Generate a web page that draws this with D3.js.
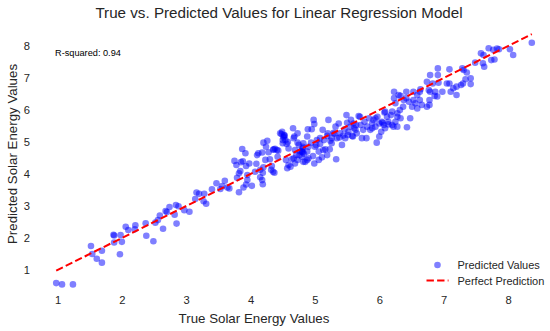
<!DOCTYPE html>
<html>
<head>
<meta charset="utf-8">
<script src="https://cdnjs.cloudflare.com/ajax/libs/d3/7.8.5/d3.min.js"></script>
<style>
  body { margin: 0; background: #fff; }
  svg { font-family: "Liberation Sans", Arial, sans-serif; }
</style>
</head>
<body>
<script>
// true vs predicted values (pairs in the same order)
const trueValues = [
  0.98,1.07,1.24,1.52,1.54,1.61,1.69,1.69,1.87,1.88,1.88,1.98,2.00,1.97,2.06,2.10,2.21,2.20,2.37,2.38,
  2.49,2.52,2.56,2.59,2.64,2.68,2.70,2.74,2.82,2.85,2.84,2.88,2.97,3.05,3.14,3.16,3.20,3.27,3.28,3.31,
  3.40,3.47,3.53,3.56,3.60,3.64,3.67,3.75,3.79,3.82,3.82,3.84,3.85,3.87,3.92,3.89,3.93,3.93,3.95,3.98,
  3.95,3.78,4.02,4.09,4.12,4.18,4.15,4.15,4.19,4.19,4.20,4.24,4.26,4.28,4.30,4.35,4.37,4.38,4.41,4.42,
  4.46,4.48,4.50,4.52,4.54,4.56,4.59,4.55,4.59,4.62,4.64,4.57,4.07,4.10,4.18,4.20,4.23,4.32,4.33,4.36,
  4.43,4.49,4.50,4.52,4.66,4.67,4.69,4.71,4.73,4.75,4.77,4.80,4.81,4.82,4.85,4.88,4.89,4.68,4.73,4.80,
  4.81,4.83,4.88,4.90,4.94,4.95,4.98,4.99,5.00,5.03,5.06,5.08,5.12,5.14,5.16,5.19,5.21,5.24,5.26,5.29,
  5.32,5.33,5.34,5.37,5.39,5.42,5.46,5.47,5.49,5.50,5.52,5.55,5.58,5.60,5.63,5.65,5.68,4.67,4.69,4.73,
  4.76,4.82,4.88,4.90,4.97,4.99,5.06,5.11,5.13,5.19,5.23,5.08,5.20,5.26,5.51,5.56,5.59,5.61,5.64,5.70,
  5.71,5.75,5.77,5.80,5.81,5.84,5.86,5.89,5.91,5.94,5.96,5.97,6.00,6.03,6.04,6.08,6.09,6.12,6.14,5.73,
  6.14,6.18,6.20,6.20,6.25,6.28,6.28,6.25,6.23,6.23,6.32,6.33,6.33,6.37,6.38,6.42,6.42,6.46,6.48,6.51,
  6.53,6.53,6.56,6.59,6.63,6.63,6.64,6.66,6.74,6.74,6.78,6.79,6.79,6.86,6.87,6.90,6.91,6.91,6.98,7.05,
  7.09,7.11,7.15,7.20,7.27,7.30,7.29,7.31,7.36,7.34,7.42,7.42,7.49,7.58,7.62,7.61,7.63,7.70,7.74,7.77,
  7.79,7.83,7.86,8.03,8.08,8.37,6.09,5.94,5.89,6.07,6.22,6.00,6.43,6.30,6.28,6.59,6.78,6.77,6.92,6.83,
  7.09,7.20,4.51,4.53,4.79,4.81,5.30,5.38,4.35,3.88,5.02,4.58,5.44,6.05
];
const predictedValues = [
  0.59,0.55,0.55,1.75,1.50,1.35,1.60,1.23,2.10,2.08,1.86,2.09,1.88,1.49,2.35,2.25,2.40,2.27,2.46,2.07,
  1.90,2.48,2.56,2.70,2.29,2.84,2.81,2.97,2.73,2.45,3.03,2.99,2.87,2.82,3.22,3.42,3.38,3.15,3.38,3.07,
  3.52,3.71,3.53,3.62,3.79,3.58,3.55,4.41,3.88,3.43,4.02,4.09,4.37,4.78,4.65,3.58,4.25,3.67,3.97,4.33,
  3.81,4.28,3.63,4.32,4.65,4.67,4.13,3.90,4.04,3.68,4.98,4.85,5.04,4.68,4.46,4.07,4.04,4.79,4.75,4.54,
  5.27,5.25,4.96,5.17,5.06,4.94,4.80,4.44,4.28,4.23,4.46,4.18,4.07,4.59,3.81,4.21,4.44,4.13,4.25,4.77,
  4.73,5.32,5.06,5.22,5.43,5.12,4.75,4.59,5.27,4.91,4.70,4.54,4.80,4.96,4.38,5.17,5.40,5.17,4.98,4.70,
  4.85,4.63,4.44,4.85,4.98,5.40,5.69,5.56,4.85,5.06,4.70,4.94,5.38,5.06,4.77,5.19,5.69,5.04,4.96,5.29,
  5.48,4.46,5.12,5.58,5.27,4.91,5.40,5.12,5.84,5.60,5.32,5.48,5.19,5.58,5.38,5.27,5.81,4.49,4.33,4.44,
  4.59,4.38,4.70,4.49,4.56,4.33,4.44,4.52,4.75,4.59,4.77,5.12,5.27,5.12,5.22,5.69,5.17,5.43,5.53,5.79,
  5.53,5.38,5.63,5.12,5.48,5.74,5.38,5.58,5.69,5.48,4.98,5.79,5.58,5.32,5.63,5.92,5.43,5.79,5.63,5.12,
  5.55,5.84,5.95,5.53,5.63,5.79,5.48,6.21,6.57,6.37,6.00,5.74,6.44,6.10,6.31,6.57,6.37,6.26,5.74,6.10,
  6.57,6.31,6.21,6.05,6.57,6.31,6.65,6.16,6.88,6.10,6.31,7.09,6.57,6.44,6.57,6.42,7.30,7.09,6.57,6.83,
  6.83,6.57,6.68,6.47,6.78,6.83,7.30,7.25,7.17,6.96,6.99,6.81,7.48,7.77,7.72,7.46,7.35,7.93,7.56,7.88,
  7.58,7.92,7.90,7.90,7.72,8.10,5.95,5.74,5.43,5.53,5.48,5.17,5.46,6.47,5.90,6.47,6.16,6.62,6.85,6.83,
  7.27,6.73,5.15,5.20,4.72,4.68,5.26,5.14,4.76,4.40,4.90,5.00,5.20,5.60
];
const xTicks = [1, 2, 3, 4, 5, 6, 7, 8];
const yTicks = [1, 2, 3, 4, 5, 6, 7, 8];
const rSquared = 0.94;

const width = 550, height = 331;
const textColor = "#262626";

const svg = d3.select("body").append("svg")
  .attr("width", width)
  .attr("height", height);

const x = d3.scaleLinear().domain([1, 8]).range([57.5, 508]);
const y = d3.scaleLinear().domain([1, 8]).range([270, 46]);

const points = trueValues.map((t, i) => ({ t: t, p: predictedValues[i] }));

// axes, no spines and no tick marks (seaborn white style)
const xAxis = svg.append("g")
  .attr("transform", "translate(0,296)")
  .call(d3.axisBottom(x).tickValues(xTicks).tickSize(0).tickPadding(0).tickFormat(d3.format("d")));
xAxis.select(".domain").remove();
xAxis.selectAll("text")
  .attr("fill", textColor)
  .attr("font-size", 11.2)
  .attr("font-family", "Liberation Sans, Arial, sans-serif");

const yAxis = svg.append("g")
  .attr("transform", "translate(30,0)")
  .call(d3.axisLeft(y).tickValues(yTicks).tickSize(0).tickPadding(0).tickFormat(d3.format("d")));
yAxis.select(".domain").remove();
yAxis.selectAll("text")
  .attr("fill", textColor)
  .attr("font-size", 11.2)
  .attr("font-family", "Liberation Sans, Arial, sans-serif");

// scatter
svg.append("g").selectAll("circle")
  .data(points)
  .enter().append("circle")
  .attr("cx", d => x(d.t))
  .attr("cy", d => y(d.p))
  .attr("r", 3.3)
  .attr("fill", "blue")
  .attr("fill-opacity", 0.5);

// perfect prediction line, min to max of the true values
const lo = d3.min(trueValues), hi = d3.max(trueValues);
svg.append("line")
  .attr("x1", x(lo)).attr("y1", y(lo))
  .attr("x2", x(hi)).attr("y2", y(hi))
  .attr("stroke", "red")
  .attr("stroke-width", 2)
  .attr("stroke-dasharray", "7.4,3.2");

// r-squared annotation
svg.append("text")
  .attr("x", 55).attr("y", 56)
  .attr("font-size", 9.2)
  .attr("fill", "#000")
  .text("R-squared: " + rSquared.toFixed(2));

// title and axis labels
svg.append("text")
  .attr("x", 279).attr("y", 18)
  .attr("text-anchor", "middle")
  .attr("font-size", 15.2)
  .attr("fill", textColor)
  .text("True vs. Predicted Values for Linear Regression Model");

svg.append("text")
  .attr("x", 254).attr("y", 323)
  .attr("text-anchor", "middle")
  .attr("font-size", 13.3)
  .attr("fill", textColor)
  .text("True Solar Energy Values");

svg.append("text")
  .attr("transform", "translate(17,154) rotate(-90)")
  .attr("text-anchor", "middle")
  .attr("font-size", 13.3)
  .attr("fill", textColor)
  .text("Predicted Solar Energy Values");

// legend
const legend = svg.append("g");
legend.append("circle")
  .attr("cx", 437.5).attr("cy", 265)
  .attr("r", 3.3)
  .attr("fill", "blue")
  .attr("fill-opacity", 0.5);
legend.append("text")
  .attr("x", 457.5).attr("y", 269)
  .attr("font-size", 11)
  .attr("fill", textColor)
  .text("Predicted Values");
legend.append("line")
  .attr("x1", 426.5).attr("x2", 448.5)
  .attr("y1", 280.5).attr("y2", 280.5)
  .attr("stroke", "red")
  .attr("stroke-width", 2)
  .attr("stroke-dasharray", "7.4,3.2");
legend.append("text")
  .attr("x", 457.5).attr("y", 284.5)
  .attr("font-size", 11)
  .attr("fill", textColor)
  .text("Perfect Prediction");
</script>
</body>
</html>
